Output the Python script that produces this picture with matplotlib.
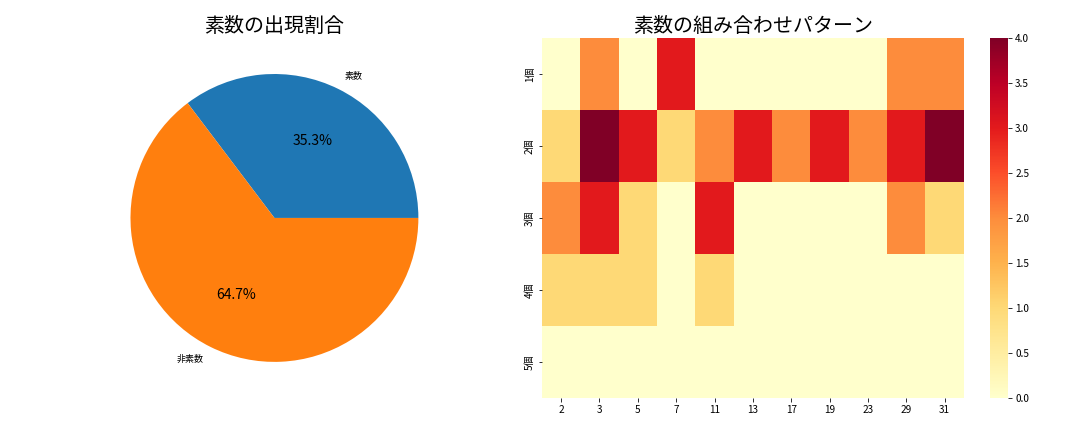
import numpy as np
import matplotlib
matplotlib.use('Agg')
import matplotlib.pyplot as plt
import seaborn as sns

plt.rcParams['font.family'] = ['Noto Sans CJK JP', 'DejaVu Sans']

pie_labels = ['素数', '非素数']
pie_values = [35.3, 64.7]

primes = ['2', '3', '5', '7', '11', '13', '17', '19', '23', '29', '31']
counts = ['1個', '2個', '3個', '4個', '5個']
pattern = np.array([
    [0, 2, 0, 3, 0, 0, 0, 0, 0, 2, 2],
    [1, 4, 3, 1, 2, 3, 2, 3, 2, 3, 4],
    [2, 3, 1, 0, 3, 0, 0, 0, 0, 2, 1],
    [1, 1, 1, 0, 1, 0, 0, 0, 0, 0, 0],
    [0, 0, 0, 0, 0, 0, 0, 0, 0, 0, 0],
])

fig, (ax1, ax2) = plt.subplots(1, 2, figsize=(15, 6), dpi=72)

ax1.pie(pie_values, labels=pie_labels, autopct='%1.1f%%',
        textprops={'fontsize': 9},
        colors=['#1f77b4', '#ff7f0e'])
for t in ax1.texts[1::2]:
    t.set_fontsize(14)
ax1.set_title('素数の出現割合', fontsize=20)

sns.heatmap(pattern, ax=ax2, cmap='YlOrRd', vmin=0, vmax=4,
            xticklabels=primes, yticklabels=counts)
ax2.set_yticklabels(counts, rotation=90, va='center')
ax2.set_title('素数の組み合わせパターン', fontsize=20)

plt.tight_layout()
plt.subplots_adjust(top=0.912, bottom=0.079)
plt.savefig('out.png')
